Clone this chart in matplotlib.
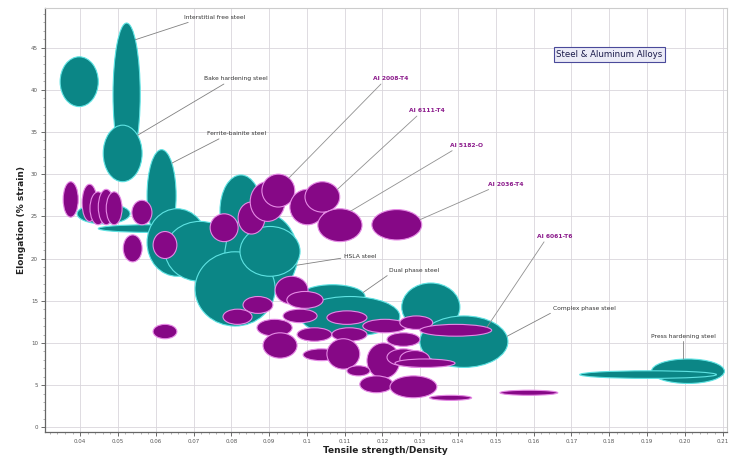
import matplotlib
matplotlib.use("Agg")
import matplotlib.pyplot as plt
from matplotlib.patches import Ellipse
from matplotlib.ticker import MultipleLocator, FuncFormatter
import numpy as np

# Steel families: ranges of specific strength (x) and elongation (y)
steel_names = [
    "Mild steel", "Interstitial free steel", "Bake hardening steel",
    "Ferrite-bainite steel", "Carbon-manganese steel", "Isotropic steel",
    "TRIP steel A", "TRIP steel B", "Ferritic stainless", "HSLA steel",
    "Austenitic stainless", "HSLA steel B", "Dual phase steel",
    "Martensitic steel", "TRIP steel C", "Complex phase steel",
    "Press hardening steel", "Hot formed steel",
]
steel_x_lo = [0.0347, 0.0487, 0.0461, 0.0577, 0.0392, 0.0448, 0.0577, 0.0625,
              0.0770, 0.0783, 0.0704, 0.0823, 0.0982, 0.0982, 0.1251, 0.1299,
              0.1912, 0.1722]
steel_x_hi = [0.0448, 0.0559, 0.0564, 0.0654, 0.0532, 0.0717, 0.0736, 0.0810,
              0.0881, 0.0976, 0.0916, 0.0982, 0.1154, 0.1246, 0.1405, 0.1532,
              0.2105, 0.2084]
steel_y_lo = [38.0, 31.0, 29.1, 22.0, 24.1, 23.1, 17.9, 17.3,
              21.4, 15.5, 12.0, 17.9, 14.1, 10.8, 11.4, 7.1,
              5.2, 5.8]
steel_y_hi = [43.9, 47.9, 35.8, 32.9, 26.5, 24.0, 25.9, 24.4,
              29.9, 25.5, 20.8, 23.8, 16.9, 15.5, 17.1, 13.2,
              8.1, 6.7]

# Aluminium alloys
alu_x_lo = [0.0355, 0.0405, 0.0426, 0.0448, 0.0469, 0.0537, 0.0514, 0.0593,
            0.0593, 0.0744, 0.0818, 0.0850, 0.0881, 0.0955, 0.0995, 0.1029,
            0.1172,
            0.0916, 0.0947, 0.0831, 0.0778, 0.0868, 0.0884, 0.0937, 0.0974,
            0.1053, 0.1066, 0.0990, 0.1053, 0.1148, 0.1159, 0.1212, 0.1212,
            0.1106, 0.1140, 0.1246, 0.1299, 0.1246, 0.1233, 0.1220, 0.1325,
            0.1511]
alu_x_hi = [0.0395, 0.0445, 0.0469, 0.0490, 0.0511, 0.0590, 0.0564, 0.0656,
            0.0656, 0.0818, 0.0889, 0.0942, 0.0968, 0.1048, 0.1087, 0.1146,
            0.1304,
            0.1003, 0.1043, 0.0910, 0.0855, 0.0961, 0.0974, 0.1027, 0.1066,
            0.1159, 0.1159, 0.1087, 0.1140, 0.1265, 0.1246, 0.1299, 0.1299,
            0.1167, 0.1228, 0.1333, 0.1489, 0.1325, 0.1392, 0.1344, 0.1436,
            0.1664]
alu_y_lo = [24.9, 24.4, 24.0, 24.0, 24.0, 24.0, 19.6, 20.0,
            10.5, 22.0, 22.9, 24.4, 26.1, 24.0, 25.5, 22.0,
            22.2,
            14.6, 14.1, 13.5, 12.2, 10.8, 8.2, 12.4, 10.2,
            12.2, 10.2, 7.9, 6.9, 11.2, 5.8, 9.6, 7.3,
            6.1, 4.1, 11.6, 10.8, 7.1, 7.1, 3.5, 3.2,
            3.8]
alu_y_hi = [29.1, 28.8, 27.9, 28.2, 27.9, 26.9, 22.8, 23.2,
            12.2, 25.3, 26.7, 29.1, 30.0, 28.2, 29.1, 25.9,
            25.8,
            17.9, 16.1, 15.5, 14.0, 12.8, 11.2, 14.0, 11.8,
            13.8, 11.8, 9.3, 10.5, 12.8, 10.0, 11.2, 9.3,
            7.3, 6.1, 13.2, 12.2, 9.1, 8.1, 6.1, 3.8,
            4.4]

# Call-outs: (text, index, angle on ellipse in degrees, text x, text y, relpos)
steel_labels = [
    ("Interstitial free steel", 1, 50, 0.0757, 48.6, (0.2, 0.0)),
    ("Bake hardening steel", 2, 40, 0.0813, 41.3, (0.38, 0.0)),
    ("Ferrite-bainite steel", 3, 45, 0.0813, 34.8, (0.3, 0.0)),
    ("HSLA steel", 9, -15, 0.1140, 20.2, (0.0, 0.3)),
    ("Dual phase steel", 12, 20, 0.1283, 18.6, (0.05, 0.0)),
    ("Complex phase steel", 15, 12, 0.1735, 14.1, (0.03, 0.0)),
    ("Press hardening steel", 16, 97, 0.1997, 10.8, (0.5, 0.0)),
]
alu_labels = [
    ("Al 2008-T4", 12, 50, 0.1222, 41.3, (0.3, 0.0)),
    ("Al 6111-T4", 14, 30, 0.1318, 37.5, (0.3, 0.0)),
    ("Al 5182-O", 15, 60, 0.1423, 33.4, (0.2, 0.0)),
    ("Al 2036-T4", 16, 20, 0.1526, 28.8, (0.2, 0.0)),
    ("Al 6061-T6", 36, 30, 0.1656, 22.6, (0.25, 0.0)),
]

STEEL_FACE = "#0b8686"
STEEL_EDGE = "#5fe3e3"
ALU_FACE = "#860886"
ALU_EDGE = "#e58ae5"

fig = plt.figure(figsize=(7.33, 4.61), dpi=100)
ax = fig.add_axes([0.0614, 0.062, 0.930, 0.921])
ax.set_xlim(0.0307, 0.2111)
ax.set_ylim(-0.6, 49.7)


def draw_family(xlo, xhi, ylo, yhi, face, edge, z):
    for a, b, c, d in zip(xlo, xhi, ylo, yhi):
        e = Ellipse(((a + b) / 2, (c + d) / 2), b - a, d - c,
                    facecolor=face, edgecolor=edge, linewidth=0.8, zorder=z)
        ax.add_patch(e)


draw_family(steel_x_lo, steel_x_hi, steel_y_lo, steel_y_hi, STEEL_FACE, STEEL_EDGE, 2)
draw_family(alu_x_lo, alu_x_hi, alu_y_lo, alu_y_hi, ALU_FACE, ALU_EDGE, 3)


def edge_point(xlo, xhi, ylo, yhi, i, ang):
    t = np.radians(ang)
    cx, cy = (xlo[i] + xhi[i]) / 2, (ylo[i] + yhi[i]) / 2
    return (cx + (xhi[i] - xlo[i]) / 2 * np.cos(t),
            cy + (yhi[i] - ylo[i]) / 2 * np.sin(t))


for text, i, ang, tx, ty, rp in steel_labels:
    tip = edge_point(steel_x_lo, steel_x_hi, steel_y_lo, steel_y_hi, i, ang)
    ax.annotate(text, xy=tip, xytext=(tx, ty), fontsize=4.3, color="#333333",
                ha="center", va="center", zorder=5,
                arrowprops=dict(arrowstyle="-", color="#808080", lw=0.6,
                                relpos=rp, shrinkA=0, shrinkB=0))

for text, i, ang, tx, ty, rp in alu_labels:
    tip = edge_point(alu_x_lo, alu_x_hi, alu_y_lo, alu_y_hi, i, ang)
    ax.annotate(text, xy=tip, xytext=(tx, ty), fontsize=4.3, color="#8b1a8b",
                fontweight="bold", ha="center", va="center", zorder=5,
                arrowprops=dict(arrowstyle="-", color="#909090", lw=0.6,
                                relpos=rp, shrinkA=0, shrinkB=0))

ax.text(0.828, 0.890, "Steel & Aluminum Alloys", transform=ax.transAxes,
        fontsize=6.2, color="#1a1a4a", ha="center", va="center", zorder=6,
        bbox=dict(boxstyle="square,pad=0.3", facecolor="#ebebf7",
                  edgecolor="#4a4a9a", linewidth=0.8))

# Axes, ticks and grid
ax.xaxis.set_major_locator(MultipleLocator(0.01))
ax.xaxis.set_minor_locator(MultipleLocator(0.002))
ax.yaxis.set_major_locator(MultipleLocator(5))
ax.yaxis.set_minor_locator(MultipleLocator(1))
ax.xaxis.set_major_formatter(FuncFormatter(
    lambda v, p: "0.1" if abs(v - 0.1) < 1e-9 else f"{v:.2f}"))
ax.tick_params(axis="both", which="major", labelsize=4, colors="#555555",
               length=3, width=0.6, pad=2)
ax.tick_params(axis="both", which="minor", length=1.5, width=0.4, colors="#777777")
ax.grid(True, which="major", color="#d9d6dc", linewidth=0.6, zorder=0)
ax.set_axisbelow(True)
for side in ("top", "right"):
    ax.spines[side].set_color("#cccccc")
    ax.spines[side].set_linewidth(0.8)
for side in ("left", "bottom"):
    ax.spines[side].set_color("#666666")
    ax.spines[side].set_linewidth(0.9)

ax.set_xlabel("Tensile strength/Density", fontsize=6.5, fontweight="bold",
              color="#222222", labelpad=1)
ax.set_ylabel("Elongation (% strain)", fontsize=6.5, fontweight="bold",
              color="#222222", labelpad=4)

fig.savefig("out.png", dpi=100, facecolor="white")
